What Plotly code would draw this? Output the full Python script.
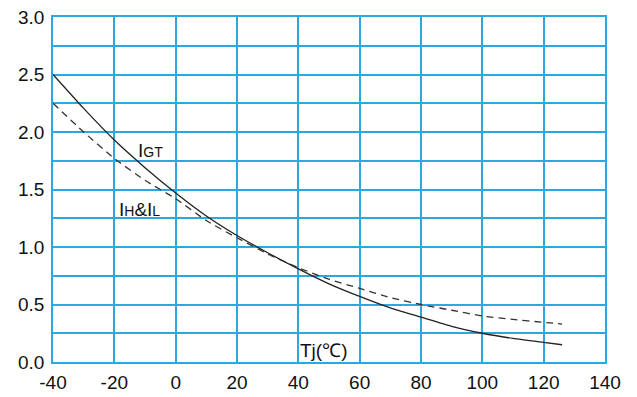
import plotly.graph_objects as go

tj = [-40, -30, -20, -10, 0, 10, 20, 30, 40, 50, 60, 70, 80, 90, 100, 110, 120, 126]
igt = [2.50, 2.205, 1.93, 1.69, 1.47, 1.27, 1.10, 0.95, 0.81, 0.68, 0.57, 0.47, 0.39, 0.31, 0.25, 0.205, 0.17, 0.15]
ihl = [2.25, 2.00, 1.77, 1.58, 1.42, 1.23, 1.08, 0.94, 0.82, 0.72, 0.64, 0.56, 0.50, 0.45, 0.40, 0.37, 0.345, 0.33]

x_ticks = [-40, -20, 0, 20, 40, 60, 80, 100, 120, 140]
x_labels = ["-40", "-20", "0", "20", "40", "60", "80", "100", "120", "140"]
y_ticks = [0.0, 0.5, 1.0, 1.5, 2.0, 2.5, 3.0]
y_labels = ["0.0", "0.5", "1.0", "1.5", "2.0", "2.5", "3.0"]

grid = "#29a9e0"

fig = go.Figure()
fig.add_trace(go.Scatter(x=tj, y=igt, mode="lines", line=dict(color="#222", width=1.3, shape="spline", smoothing=0.6), showlegend=False))
fig.add_trace(go.Scatter(x=tj, y=ihl, mode="lines", line=dict(color="#333", width=1.3, dash="7px,5px", shape="spline", smoothing=0.6), showlegend=False))

font = dict(family="Liberation Sans, Arial", size=19, color="#111")
fig.update_layout(
    width=637, height=397,
    margin=dict(l=45, r=40, t=9, b=43),
    plot_bgcolor="white", paper_bgcolor="white",
    font=font,
    xaxis=dict(range=[-40, 140], tickvals=x_ticks, ticktext=x_labels, showgrid=True, gridcolor=grid, gridwidth=1.8,
               showline=True, linecolor=grid, linewidth=1.8, mirror=True, zeroline=False,
               ticks="", ticklabelstandoff=2, automargin=False, ticklabeloverflow="allow"),
    yaxis=dict(range=[0, 3], tickvals=y_ticks, ticktext=y_labels, showgrid=True, gridcolor=grid, gridwidth=1.8,
               showline=True, linecolor=grid, linewidth=1.8, mirror=True, zeroline=False,
               ticks="", ticklabelstandoff=3, automargin=False, ticklabeloverflow="allow",
               minor=dict(dtick=0.25, showgrid=True, gridcolor=grid, gridwidth=1.8)),
)

fig.add_annotation(x=-12.8, y=1.84, xref="x", yref="y", xanchor="left", yanchor="middle",
                   text="I<span style='font-size:14px'>GT</span>", showarrow=False, font=font)
fig.add_annotation(x=-19, y=1.33, xref="x", yref="y", xanchor="left", yanchor="middle",
                   text="I<span style='font-size:14px'>H</span>&amp;I<span style='font-size:14px'>L</span>", showarrow=False, font=font)
fig.add_annotation(x=40, y=0.10, xref="x", yref="y", xanchor="left", yanchor="middle",
                   text="Tj(℃)", showarrow=False, font=font)

fig.write_html("out.html")
